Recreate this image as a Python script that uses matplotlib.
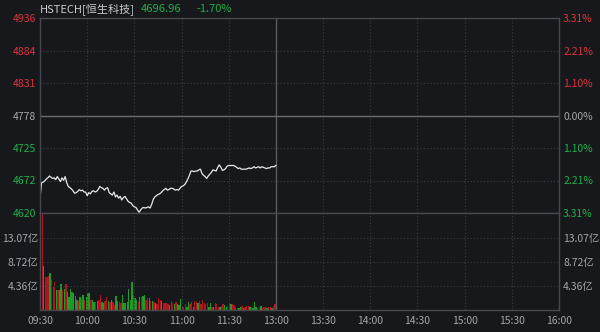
import numpy as np
import matplotlib
matplotlib.use("Agg")
import matplotlib.pyplot as plt

plt.rcParams['font.family'] = ['Noto Sans CJK SC', 'DejaVu Sans']

# --- data ---
prev_close = 4778.0
last_price = 4696.96
change_pct = "-1.70%"
name = "HSTECH[恒生科技]"

time_labels = ['09:30', '10:00', '10:30', '11:00', '11:30', '13:00',
               '13:30', '14:00', '14:30', '15:00', '15:30', '16:00']
session_minutes = 330

price = [4644, 4669, 4670, 4672, 4675, 4677, 4680, 4678, 4676, 4677,
         4674, 4679, 4675, 4671, 4677, 4673, 4679, 4669, 4663, 4661,
         4659, 4656, 4652, 4653, 4655, 4658, 4656, 4657, 4654, 4654,
         4648, 4653, 4651, 4655, 4656, 4654, 4655, 4658, 4663, 4661,
         4660, 4657, 4660, 4661, 4653, 4651, 4649, 4654, 4646, 4649,
         4644, 4647, 4641, 4645, 4647, 4643, 4639, 4637, 4636, 4632,
         4630, 4629, 4625, 4621, 4625, 4628, 4629, 4628, 4629, 4630,
         4628, 4634, 4642, 4646, 4648, 4650, 4651, 4653, 4656, 4658,
         4660, 4657, 4658, 4660, 4660, 4659, 4657, 4658, 4657, 4660,
         4663, 4664, 4666, 4670, 4675, 4681, 4688, 4688, 4687, 4688,
         4688, 4690, 4691, 4684, 4681, 4679, 4676, 4680, 4683, 4686,
         4690, 4689, 4688, 4694, 4698, 4694, 4689, 4690, 4692, 4696,
         4697, 4697, 4697, 4697, 4696, 4694, 4692, 4693, 4691, 4691,
         4691, 4691, 4692, 4693, 4692, 4693, 4695, 4693, 4694, 4695,
         4693, 4695, 4694, 4693, 4692, 4693, 4693, 4695, 4695, 4695,
         4697]

# turnover per minute, in 亿
volume = [12.4, 18.5, 8.0, 6.0, 6.0, 6.2, 6.7, 5.4, 4.2, 5.0,
          3.6, 3.6, 3.6, 4.8, 3.6, 3.9, 4.8, 3.3, 2.4, 3.9,
          3.3, 3.0, 2.6, 1.8, 1.6, 2.4, 2.1, 2.7, 1.8, 2.4,
          3.0, 3.0, 1.8, 1.8, 1.5, 1.5, 1.6, 1.8, 2.8, 1.4,
          1.2, 1.6, 2.4, 1.6, 1.4, 1.8, 1.4, 0.9, 2.6, 1.6,
          1.5, 1.2, 2.7, 1.2, 1.2, 1.5, 3.8, 1.8, 5.0, 2.8,
          2.1, 1.8, 1.5, 2.4, 2.4, 2.6, 2.7, 1.8, 2.2, 2.2,
          1.6, 1.6, 1.4, 1.2, 1.0, 2.2, 1.8, 1.6, 1.2, 1.2,
          1.2, 1.0, 0.9, 1.6, 1.2, 1.0, 1.5, 1.0, 0.9, 2.0,
          0.7, 0.6, 1.0, 0.6, 1.4, 1.0, 1.5, 0.6, 1.6, 1.4,
          1.2, 1.6, 1.0, 1.8, 1.2, 1.0, 1.2, 0.6, 1.2, 0.6,
          0.6, 1.2, 1.0, 0.6, 0.6, 0.8, 1.0, 0.9, 0.6, 0.8,
          1.0, 1.0, 1.0, 0.9, 0.6, 0.4, 0.4, 0.6, 0.8, 0.4,
          0.6, 0.8, 0.8, 0.6, 0.6, 0.4, 1.4, 0.6, 0.4, 0.6,
          0.8, 0.4, 0.6, 0.6, 0.4, 0.6, 0.6, 0.4, 0.8, 1.0]
# 1 = up minute (red), 0 = down minute (green)
vol_up = [0, 1, 0, 1, 1, 1, 0, 1, 1, 1,
          0, 1, 0, 0, 1, 0, 1, 0, 0, 0,
          0, 0, 0, 0, 1, 0, 1, 0, 1, 0,
          0, 0, 1, 0, 0, 1, 0, 1, 1, 0,
          0, 1, 1, 0, 1, 0, 1, 1, 0, 0,
          1, 1, 0, 0, 0, 0, 0, 0, 0, 1,
          0, 0, 1, 0, 1, 0, 0, 1, 1, 0,
          1, 0, 1, 0, 1, 1, 1, 0, 1, 1,
          1, 1, 0, 1, 1, 0, 1, 0, 0, 0,
          1, 1, 1, 0, 0, 1, 1, 0, 1, 1,
          0, 1, 1, 1, 1, 1, 1, 0, 0, 1,
          0, 1, 1, 1, 0, 1, 1, 0, 0, 1,
          1, 0, 1, 1, 1, 1, 0, 0, 1, 0,
          1, 1, 1, 0, 1, 0, 0, 0, 1, 1,
          0, 1, 1, 1, 0, 1, 1, 0, 1, 1]

price_ticks = [4936, 4884, 4831, 4778, 4725, 4672, 4620]
pct_labels = ['3.31%', '2.21%', '1.10%', '0.00%', '1.10%', '2.21%', '3.31%']
vol_ticks = [4.36, 8.72, 13.07]

# --- style ---
bg = '#16181c'
grid_c = '#3a3d43'
frame_c = '#45484e'
red_t = '#e0323a'
green_t = '#1fb04a'
gray_t = '#a3a6ab'
red_b = '#b0161d'
green_b = '#1f9a29'

fig = plt.figure(figsize=(6, 3.32), dpi=100, facecolor=bg)
W, H = 600, 332
L, R = 40, 559
top, mid, bot = 18, 213, 310

ax = fig.add_axes([L / W, (H - mid) / H, (R - L) / W, (mid - top) / H])
axv = fig.add_axes([L / W, (H - bot) / H, (R - L) / W, (bot - mid) / H])

span = 158
lo, hi = prev_close - span, prev_close + span
tick_pos = np.linspace(hi, lo, 7)
xt = np.arange(0, session_minutes + 1, 30)

for a in (ax, axv):
    a.set_facecolor(bg)
    a.set_xlim(0, session_minutes)
    for s in a.spines.values():
        s.set_color(frame_c)
        s.set_linewidth(1)
    a.tick_params(length=0)
    for x in xt[1:-1]:
        if x == 150:
            a.axvline(x, color='#5a5d63', lw=1)
        else:
            a.axvline(x, color=grid_c, lw=0.8, ls=(0, (1, 2)))

# price panel
ax.set_ylim(lo, hi)
ax.set_xticks([])
ax.set_yticks(tick_pos)
ax.set_yticklabels([str(t) for t in price_ticks], fontsize=7.5)
for lbl, t in zip(ax.get_yticklabels(), price_ticks):
    lbl.set_color(red_t if t > prev_close else (gray_t if t == prev_close else green_t))
for y in tick_pos[1:-1]:
    if abs(y - prev_close) < 1:
        ax.axhline(y, color='#6a6d73', lw=1)
    else:
        ax.axhline(y, color=grid_c, lw=0.8, ls=(0, (1, 2)))
ax.tick_params(axis='y', pad=3)

axr = ax.twinx()
axr.set_ylim(lo, hi)
axr.set_yticks(tick_pos)
axr.set_yticklabels(pct_labels, fontsize=7.5)
axr.tick_params(length=0, pad=3)
for lbl, t in zip(axr.get_yticklabels(), price_ticks):
    lbl.set_color(red_t if t > prev_close else (gray_t if t == prev_close else green_t))
for s in axr.spines.values():
    s.set_visible(False)

ax.plot(np.arange(len(price)), price, color='#e8e8e8', lw=0.9)

# volume panel
vmax = (bot - mid) / 24 * 4.36
axv.set_ylim(0, vmax)
colors = [red_b if u else green_b for u in vol_up]
axv.bar(np.arange(len(volume)), volume, width=0.85, color=colors,
        align='edge', linewidth=0)
axv.set_yticks(vol_ticks)
axv.set_yticklabels([f'{v:.2f}亿' for v in vol_ticks], fontsize=7.5, color=gray_t)
for y in vol_ticks:
    axv.axhline(y, color=grid_c, lw=0.8, ls=(0, (1, 2)))
axv.set_xticks(xt)
axv.set_xticklabels(time_labels, fontsize=7.5, color=gray_t)
axv.tick_params(axis='x', pad=4)
axv.tick_params(axis='y', pad=1)

axvr = axv.twinx()
axvr.set_ylim(0, vmax)
axvr.set_yticks(vol_ticks)
axvr.set_yticklabels([f'{v:.2f}亿' for v in vol_ticks], fontsize=7.5, color=gray_t)
axvr.tick_params(length=0, pad=3)
for s in axvr.spines.values():
    s.set_visible(False)

# header
fig.text(L / W, 1 - 9 / H, name, color='#c9cbce', fontsize=8, va='center')
fig.text(141 / W, 1 - 9 / H, f'{last_price:.2f}', color=green_t, fontsize=8, va='center')
fig.text(196 / W, 1 - 9 / H, change_pct, color=green_t, fontsize=8, va='center')

fig.savefig('out.png', dpi=100, facecolor=bg)
